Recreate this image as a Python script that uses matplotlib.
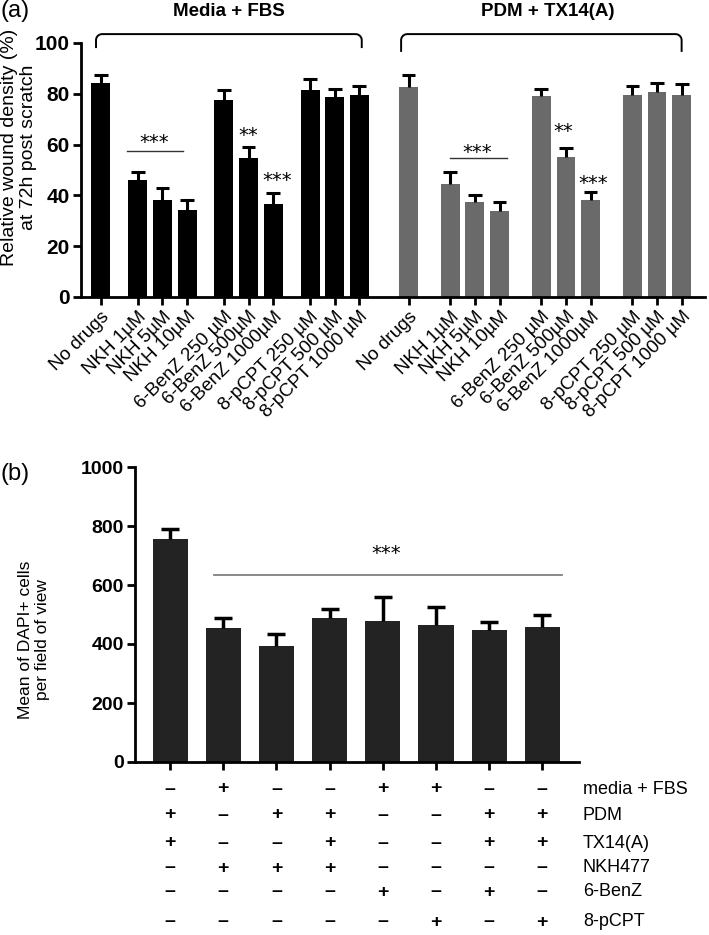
#! /usr/bin/env python3

#Two panel bar chart: wound density (a) and DAPI+ cell counts (b).

import numpy as np
import matplotlib
matplotlib.use('Agg')
import matplotlib.pyplot as plt
from matplotlib.transforms import blended_transform_factory

#Panel (a) data.
labelsA = ['No drugs', 'NKH 1µM', 'NKH 5µM', 'NKH 10µM',
           '6-BenZ 250 µM', '6-BenZ 500µM', '6-BenZ 1000µM',
           '8-pCPT 250 µM', '8-pCPT 500 µM', '8-pCPT 1000 µM']
fbsMean = [84.2, 45.9, 38.0, 34.2, 77.4, 54.6, 36.7, 81.6, 78.7, 79.7]
fbsErr = [3.2, 3.4, 5.0, 3.8, 3.9, 4.6, 4.1, 4.2, 3.3, 3.4]
pdmMean = [82.5, 44.6, 37.4, 34.0, 79.0, 55.2, 38.3, 79.5, 80.9, 79.7]
pdmErr = [4.8, 4.8, 2.6, 3.4, 2.8, 3.5, 3.0, 3.4, 3.5, 4.0]
groupA = ['Media + FBS', 'PDM + TX14(A)']

#Panel (b) data.
dapiMean = [755, 455, 392, 488, 479, 466, 448, 458]
dapiErr = [34, 34, 43, 31, 81, 59, 27, 40]
rowNames = ['media + FBS', 'PDM', 'TX14(A)', 'NKH477', '6-BenZ', '8-pCPT']
rowSigns = ['-+--++--',
            '+-++--++',
            '+--+--++',
            '-+++----',
            '----+-+-',
            '-----+-+']


def bracket(ax, x0, x1, ybot, ytop, rx, ry) :
  #Bracket with rounded corners drawn above the bars.
  t = np.linspace(0, np.pi/2, 12)
  xl = x0 + rx*(1 - np.cos(t))
  yl = ytop - ry*(1 - np.sin(t))
  xs = np.concatenate([[x0], xl, (x1 - (xl - x0))[::-1], [x1]])
  ys = np.concatenate([[ybot], yl, yl[::-1], [ybot]])
  ax.plot(xs, ys, color = 'k', lw = 1.4, clip_on = False, solid_capstyle = 'butt')


def upperErr(ax, x, mean, err, cw, lw) :
  #One sided (upper) error bars.
  top = np.array(mean) + np.array(err)
  ax.vlines(x, mean, top, color = 'k', lw = lw, zorder = 3)
  ax.hlines(top, np.array(x) - cw, np.array(x) + cw, color = 'k', lw = lw, zorder = 3)


def main() :
  plt.rcParams['font.family'] = ['Liberation Sans', 'DejaVu Sans']

  fig = plt.figure(figsize = (7.09, 9.35), dpi = 100)

  #---------------- panel (a) ----------------
  axA = fig.add_axes([81/709, 1 - 297/935, 624/709, 254/935])

  xBlack = np.array([0, 1.5, 2.5, 3.5, 5, 6, 7, 8.5, 9.5, 10.5])
  xGray = np.array([12.5, 14.2, 15.2, 16.2, 17.9, 18.9, 19.9, 21.6, 22.6, 23.6])
  width = 0.77

  axA.bar(xBlack, fbsMean, width, color = 'k', zorder = 2)
  axA.bar(xGray, pdmMean, width, color = '#6a6a6a', zorder = 2)
  upperErr(axA, xBlack, fbsMean, fbsErr, 0.28, 2.2)
  upperErr(axA, xGray, pdmMean, pdmErr, 0.28, 2.2)

  axA.set_xlim(-0.81, 24.55)
  axA.set_ylim(0, 100)
  axA.set_yticks([0, 20, 40, 60, 80, 100])
  axA.set_xticks(np.concatenate([xBlack, xGray]))
  axA.set_xticklabels(labelsA + labelsA, rotation = 45, ha = 'right', va = 'top',
                      rotation_mode = 'anchor', fontsize = 13.5)
  for lab in axA.get_yticklabels() :
    lab.set_fontweight('bold')
    lab.set_fontsize(15)
  for s in ['top', 'right'] :
    axA.spines[s].set_visible(False)
  for s in ['left', 'bottom'] :
    axA.spines[s].set_linewidth(2)
  axA.tick_params(axis = 'both', width = 2, length = 6, direction = 'out', pad = 2)

  #Brackets and group titles.
  bracket(axA, -0.2, 10.6, 98.0, 103.5, 0.25, 2.4)
  bracket(axA, 12.2, 23.6, 96.5, 103.5, 0.25, 2.4)
  fig.text(229/709, 1 - 11/935, groupA[0], ha = 'center', va = 'center',
           fontsize = 13.5, fontweight = 'bold')
  fig.text(548/709, 1 - 11/935, groupA[1], ha = 'center', va = 'center',
           fontsize = 13.5, fontweight = 'bold')

  #Significance marks.
  axA.plot([1.06, 3.33], [57.6, 57.6], color = '#333333', lw = 1)
  axA.plot([14.2, 16.5], [54.7, 54.7], color = '#333333', lw = 1)
  star = dict(ha = 'center', va = 'center', fontsize = 14, family = 'DejaVu Sans')
  axA.text(2.15, 61.0, '***', **star)
  axA.text(15.3, 57.0, '***', **star)
  axA.text(6.0, 63.5, '**', **star)
  axA.text(7.15, 46.0, '***', **star)
  axA.text(18.8, 65.0, '**', **star)
  axA.text(20.0, 44.5, '***', **star)

  fig.text(19/709, 1 - 147/935, 'Relative wound density (%)\nat 72h post scratch',
           rotation = 90, ha = 'center', va = 'center', multialignment = 'center',
           fontsize = 14)
  fig.text(0.0, 1 - 11/935, '(a)', ha = 'left', va = 'center', fontsize = 17)

  #---------------- panel (b) ----------------
  axB = fig.add_axes([135/709, 1 - 762/935, 444/709, 295/935])
  xB = np.arange(len(dapiMean))
  axB.bar(xB, dapiMean, 0.66, color = '#232323', zorder = 2)
  upperErr(axB, xB, dapiMean, dapiErr, 0.17, 2.5)

  axB.set_xlim(-0.66, 7.69)
  axB.set_ylim(0, 1000)
  axB.set_yticks([0, 200, 400, 600, 800, 1000])
  axB.set_xticks(xB)
  axB.set_xticklabels([])
  for lab in axB.get_yticklabels() :
    lab.set_fontweight('bold')
    lab.set_fontsize(14)
  for s in ['top', 'right'] :
    axB.spines[s].set_visible(False)
  for s in ['left', 'bottom'] :
    axB.spines[s].set_linewidth(2)
  axB.tick_params(axis = 'both', width = 2, length = 6, direction = 'out', pad = 2)

  axB.plot([0.83, 7.37], [634, 634], color = '#808080', lw = 1.3)
  axB.text(4.06, 708, '***', **star)

  fig.text(34/709, 1 - 640/935, 'Mean of DAPI+ cells\nper field of view',
           rotation = 90, ha = 'center', va = 'center', multialignment = 'center',
           fontsize = 12.5)
  fig.text(0.0, 1 - 474/935, '(b)', ha = 'left', va = 'center', fontsize = 17)

  #Treatment table under the bars.
  trans = blended_transform_factory(axB.transData, fig.transFigure)
  rowY = [789, 815, 843, 868, 892, 922]
  for r in range(len(rowNames)) :
    yf = 1 - rowY[r]/935
    for c in range(len(rowSigns[r])) :
      sym = '+' if rowSigns[r][c] == '+' else '\u2013'
      axB.text(xB[c], yf, sym, transform = trans, ha = 'center', va = 'center',
               fontsize = 14, fontweight = 'bold')
    fig.text(583/709, yf, rowNames[r], ha = 'left', va = 'center', fontsize = 13)

  fig.savefig('out.png', dpi = 100)


if __name__ == '__main__':
  main()
